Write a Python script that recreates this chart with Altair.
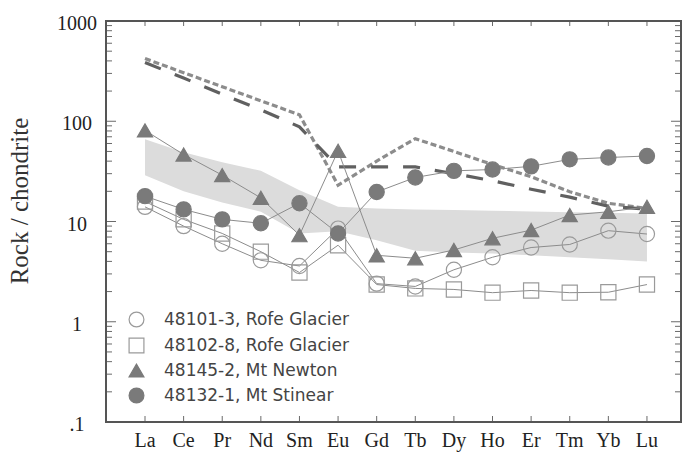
import altair as alt
import pandas as pd

# ---------------- data ----------------
elements = ["La", "Ce", "Pr", "Nd", "Sm", "Eu", "Gd", "Tb", "Dy", "Ho", "Er", "Tm", "Yb", "Lu"]

samples = ["48101-3, Rofe Glacier", "48102-8, Rofe Glacier",
           "48145-2, Mt Newton", "48132-1, Mt Stinear"]

s_48101_3 = [14.0, 9.0, 6.0, 4.1, 3.6, 8.5, 2.4, 2.25, 3.3, 4.4, 5.5, 5.9, 8.1, 7.5]
s_48102_8 = [15.8, 10.5, 7.6, 5.0, 3.1, 5.8, 2.35, 2.15, 2.1, 1.95, 2.05, 1.95, 1.97, 2.35]
s_48145_2 = [81, 46.6, 29, 17.2, 7.3, 50.7, 4.6, 4.3, 5.2, 6.8, 8.2, 11.6, 12.5, 14.0]
s_48132_1 = [17.9, 13.2, 10.5, 9.6, 15.2, 7.6, 19.7, 27.5, 32, 33, 35.5, 41.7, 43.5, 45]

short_dash = [422, 305, 221, 160, 116, 23, 40, 67, 50, 37, 28, 19.8, 15.2, 13.5]
long_dash = [385, 270, 186, 130, 88, 35, 35, 35, 30, 25.5, 21, 17.5, 14.2, 13.3]

band_upper = [66, 49, 39, 32, 20.5, 14, 13.5, 13.2, 13.0, 12.8, 12.6, 12.4, 12.2, 12.0]
band_lower = [29, 20, 15.5, 12.5, 7.6, 8.0, 6.5, 5.1, 4.9, 4.8, 4.6, 4.4, 4.2, 4.0]

major_ticks = [0.1, 1, 10, 100, 1000]
major_labels = [".1", "1", "10", "100", "1000"]
minor_ticks = [0.2, 0.3, 0.4, 0.5, 0.6, 0.7, 0.8, 0.9,
               2, 3, 4, 5, 6, 7, 8, 9,
               20, 30, 40, 50, 60, 70, 80, 90,
               200, 300, 400, 500, 600, 700, 800, 900]
y_title = ["Rock / chondrite"]

shapes = ["circle", "square", "triangle-up", "circle"]
fills = ["transparent", "transparent", "#7a7a7a", "#7a7a7a"]
strokes = ["#9a9a9a", "#9a9a9a", "#7a7a7a", "#7a7a7a"]

# ---------------- tables ----------------
rows = []
for name, vals in zip(samples, [s_48101_3, s_48102_8, s_48145_2, s_48132_1]):
    for e, v in zip(elements, vals):
        rows.append({"element": e, "value": v, "sample": name})
df = pd.DataFrame(rows)

ref = pd.DataFrame({"element": elements, "short": short_dash, "long": long_dash,
                    "lo": band_lower, "hi": band_upper})
major_df = pd.DataFrame({"v": major_ticks})
label_df = pd.DataFrame({"lv": major_ticks, "label": major_labels})
minor_df = pd.DataFrame({"v": minor_ticks})
cat_df = pd.DataFrame({"element": elements})
xlab_df = pd.DataFrame({"name": elements})
title_df = pd.DataFrame({"t": y_title})

# whole canvas is the view; the plot frame sits inside it
CW, CH = 683, 457
L, R, T, B = 106, 681, 21, 422
SERIF = "Liberation Serif"
TICK = "#6a6a6a"

xs = alt.Scale(type="point", domain=elements, range=[L, R], padding=0.946, align=0.534)
ys = alt.Scale(type="log", domain=[0.1, 1000], range=[B, T], nice=False)


def X(field="element:N"):
    return alt.X(field, scale=xs, sort=elements, axis=None)


def Y(field):
    return alt.Y(field, scale=ys, axis=None)


band = alt.Chart(ref).mark_area(color="#dcdcdc").encode(x=X(), y=Y("lo:Q"), y2="hi:Q")

short_line = alt.Chart(ref).mark_line(color="#8c8c8c", strokeWidth=3.2, strokeDash=[6, 3]).encode(
    x=X(), y=Y("short:Q"))

long_line = alt.Chart(ref).mark_line(color="#606060", strokeWidth=3.2, strokeDash=[17, 15]).encode(
    x=X(), y=Y("long:Q"))

sample_lines = alt.Chart(df).mark_line(color="#8c8c8c", strokeWidth=1).encode(
    x=X(), y=Y("value:Q"), detail="sample:N")

leg = alt.Legend(title=None, orient="none", legendX=L + 22, legendY=T + 290,
                 labelFont="DejaVu Sans", labelFontSize=17, labelColor="#444", labelLimit=400,
                 symbolSize=220, rowPadding=5, labelOffset=19, symbolStrokeWidth=1.2)

points = alt.Chart(df).mark_point(filled=True, size=230, strokeWidth=1.2, opacity=1).encode(
    x=X(), y=Y("value:Q"),
    shape=alt.Shape("sample:N", scale=alt.Scale(domain=samples, range=shapes), legend=leg),
    fill=alt.Fill("sample:N", scale=alt.Scale(domain=samples, range=fills), legend=leg),
    stroke=alt.Stroke("sample:N", scale=alt.Scale(domain=samples, range=strokes), legend=leg),
)


# inward frame ticks drawn as stroked path symbols, placed through the scales
# (custom symbol paths are normalised to [-1, 1] and scaled by sqrt(size)/2)
def yticks(data, x0, path, length):
    return alt.Chart(data).mark_point(
        shape=path, size=(2 * length) ** 2, filled=False, stroke=TICK, strokeWidth=1, opacity=1
    ).encode(y=Y("v:Q"), x=alt.value(x0))


left_major = yticks(major_df, L, "M0,0H1", 10)
left_minor = yticks(minor_df, L, "M0,0H1", 6)
right_major = yticks(major_df, R, "M0,0H-1", 10)
right_minor = yticks(minor_df, R, "M0,0H-1", 6)

top_ticks = alt.Chart(cat_df).mark_point(
    shape="M0,0V1", size=100, filled=False, stroke=TICK, strokeWidth=1, opacity=1
).encode(x=X(), y=alt.value(T))
bottom_ticks = alt.Chart(cat_df).mark_point(
    shape="M0,0V-1", size=144, filled=False, stroke=TICK, strokeWidth=1, opacity=1
).encode(x=X(), y=alt.value(B))

half_w = (R - L) / 2
frame_path = "M-1,-{r:.4f}H1V{r:.4f}H-1Z".format(r=(B - T) / 2 / half_w)
frame = alt.Chart(title_df).mark_point(
    shape=frame_path, size=(R - L) ** 2, filled=False, stroke="#555555", strokeWidth=2, opacity=1
).encode(x=alt.value((L + R) / 2), y=alt.value((T + B) / 2))

# axis labels and title as text placed through the scales
y_labels = alt.Chart(label_df).mark_text(
    font=SERIF, fontSize=20, color="#222", align="center", baseline="middle", dy=3
).encode(y=Y("lv:Q"), x=alt.value(77), text="label:N")

x_labels = alt.Chart(xlab_df).mark_text(
    font=SERIF, fontSize=20, color="#222", align="center", baseline="middle"
).encode(x=X("name:N"), y=alt.value(B + 19), text="name:N")

title_txt = alt.Chart(title_df).mark_text(
    font=SERIF, fontSize=25, color="#333", angle=270, align="center", baseline="middle"
).encode(x=alt.value(20), y=alt.value(T + 180), text="t:N")

chart = alt.layer(band, short_line, long_line, sample_lines, points,
                  left_major, left_minor, right_major, right_minor, top_ticks, bottom_ticks,
                  frame, y_labels, x_labels, title_txt
                  ).properties(
    width=CW, height=CH, autosize="none", padding=0, background="white",
).configure_view(strokeWidth=0)

chart.save("out.html", embed_options={"renderer": "svg", "actions": False})
